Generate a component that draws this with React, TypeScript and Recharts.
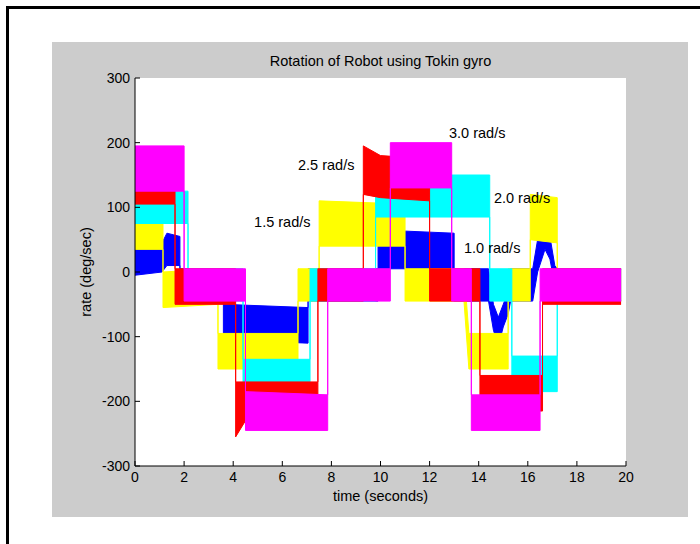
import { Area, CartesianGrid, ComposedChart, Label, ReferenceDot, XAxis, YAxis } from "recharts";

// time ticks (s) and rate ticks (deg/sec)
const timeTicks = [0, 2, 4, 6, 8, 10, 12, 14, 16, 18, 20];
const rateTicks = [-300, -200, -100, 0, 100, 200, 300];

// each entry: [time, low edge of noise band, high edge of noise band]
type BandPoint = [number, number, number];

const blue10: BandPoint[] = [
  [0, -5, 45], [1.1, 0, 45], [1.3, 10, 60], [1.83, 10, 55],
  [1.83, -45, 5], [3.6, -45, 5],
  [3.6, -105, -50], [7.05, -110, -55],
  [7.05, -45, 5], [9.9, -45, 5],
  [9.9, 5, 65], [13.0, 5, 60],
  [13.0, -45, 5], [14.4, -45, 5],
  [14.6, -90, -50], [14.8, -115, -70], [15.0, -85, -50], [15.2, -65, -30], [15.3, -45, 5],
  [16.2, -45, 5], [16.4, 0, 50], [16.7, 35, 70], [16.9, 20, 55], [17.1, -20, 10],
  [17.2, -45, 5], [19.8, -45, 5],
];

const yellow15: BandPoint[] = [
  [0, 35, 90], [1.14, 35, 90],
  [1.14, -55, 0], [3.38, -50, 5],
  [3.38, -150, -95], [6.64, -150, -95],
  [6.64, -45, 5], [7.5, -45, 5],
  [7.5, 40, 110], [11.0, 40, 105],
  [11.0, -45, 5], [13.4, -45, 5],
  [13.6, -150, -95], [15.2, -150, -95],
  [15.2, -45, 5], [16.1, -45, 5],
  [16.1, 50, 120], [17.2, 45, 115],
  [17.2, -45, 5], [19.8, -45, 5],
];

const cyan20: BandPoint[] = [
  [0, 75, 125], [2.16, 75, 125],
  [2.16, -45, 5], [4.4, -45, 5],
  [4.4, -180, -135], [7.13, -180, -135],
  [7.13, -45, 5], [9.8, -45, 5],
  [9.8, 85, 150], [14.45, 85, 150],
  [14.45, -45, 5], [15.35, -45, 5],
  [15.35, -185, -130], [17.2, -185, -130],
  [17.2, -45, 5], [19.8, -45, 5],
];

const red25: BandPoint[] = [
  [0, 105, 150], [1.63, 105, 150],
  [1.63, -50, 5], [4.1, -50, 5],
  [4.1, -255, -170], [4.5, -230, -170], [7.45, -230, -170],
  [7.45, -45, 5], [9.3, -45, 5],
  [9.3, 120, 195], [10.0, 115, 180], [12.0, 110, 175],
  [12.0, -45, 5], [14.05, -45, 5],
  [14.05, -215, -160], [16.6, -215, -160],
  [16.6, -50, 5], [19.8, -50, 5],
];

const magenta30: BandPoint[] = [
  [0, 125, 195], [2.0, 125, 195],
  [2.0, -45, 5], [4.5, -45, 5],
  [4.5, -245, -185], [7.85, -245, -190],
  [7.85, -45, 5], [10.4, -45, 5],
  [10.4, 130, 200], [12.9, 130, 200],
  [12.9, -45, 5], [13.7, -45, 5],
  [13.7, -245, -190], [16.5, -245, -190],
  [16.5, -45, 5], [19.8, -45, 5],
];

const series = [
  { name: "1.0 rad/s", color: "#0000ff", points: blue10 },
  { name: "1.5 rad/s", color: "#ffff00", points: yellow15 },
  { name: "2.0 rad/s", color: "#00ffff", points: cyan20 },
  { name: "2.5 rad/s", color: "#ff0000", points: red25 },
  { name: "3.0 rad/s", color: "#ff00ff", points: magenta30 },
];

// text notes: [time, rate, text]
const notes: [number, number, string][] = [
  [12.79, 215, "3.0 rad/s"],
  [6.64, 165, "2.5 rad/s"],
  [14.62, 114, "2.0 rad/s"],
  [4.85, 77, "1.5 rad/s"],
  [13.4, 37, "1.0 rad/s"],
];

const font = "'Liberation Sans', Arial, sans-serif";
const tickStyle = { fontSize: 14, fill: "#000", fontFamily: font };

export default function App() {
  return (
    <div style={{ position: "absolute", left: 0, top: 0, width: 700, height: 544, background: "#fff", fontFamily: font }}>
      <div style={{ position: "absolute", left: 6, top: 6, width: 694, height: 3, background: "#000" }} />
      <div style={{ position: "absolute", left: 6, top: 6, width: 3, height: 538, background: "#000" }} />
      <div style={{ position: "absolute", left: 52, top: 42, width: 636, height: 475, background: "#cccccc" }} />
      <div
        style={{
          position: "absolute",
          left: 135,
          top: 53,
          width: 491,
          textAlign: "center",
          fontSize: 14.5,
          lineHeight: "17px",
          color: "#000",
        }}
      >
        Rotation of Robot using Tokin gyro
      </div>
      <div style={{ position: "absolute", left: 0, top: 0 }}>
        <ComposedChart width={700} height={544} margin={{ top: 78, right: 74, bottom: 48, left: 75 }}>
          <CartesianGrid horizontal={false} vertical={false} fill="#fff" stroke="none" />
          <XAxis
            dataKey="t"
            type="number"
            domain={[0, 20]}
            ticks={timeTicks}
            allowDataOverflow
            height={30}
            tickSize={-5}
            tickMargin={11}
            tick={tickStyle}
            stroke="#000"
            interval={0}
          >
            <Label value="time (seconds)" position="bottom" offset={-5} style={{ fontSize: 14.5, fill: "#000", fontFamily: font }} />
          </XAxis>
          <XAxis
            xAxisId="top"
            orientation="top"
            type="number"
            domain={[0, 20]}
            ticks={timeTicks}
            height={0}
            tickSize={-5}
            tick={false}
            stroke="#000"
          />
          <YAxis
            type="number"
            domain={[-300, 300]}
            ticks={rateTicks}
            allowDataOverflow
            width={60}
            tickSize={-5}
            tickMargin={10}
            tick={tickStyle}
            stroke="#000"
            interval={0}
          >
            <Label
              value="rate (deg/sec)"
              angle={-90}
              position="insideLeft"
              offset={11}
              style={{ fontSize: 14.5, fill: "#000", fontFamily: font, textAnchor: "middle" }}
            />
          </YAxis>
          <YAxis
            yAxisId="right"
            orientation="right"
            type="number"
            domain={[-300, 300]}
            ticks={rateTicks}
            width={0}
            tickSize={-5}
            tick={false}
            stroke="#000"
          />
          {series.map((s) => (
            <Area
              key={s.name}
              name={s.name}
              data={s.points.map(([t, lo, hi]) => ({ t, band: [lo, hi] }))}
              dataKey="band"
              type="linear"
              stroke={s.color}
              strokeWidth={1}
              fill={s.color}
              fillOpacity={1}
              dot={false}
              activeDot={false}
              isAnimationActive={false}
            />
          ))}
          {notes.map(([t, v, text]) => (
            <ReferenceDot
              key={text}
              x={t}
              y={v}
              r={0}
              stroke="none"
              fill="none"
              label={{ value: text, position: "right", offset: 0, fontSize: 14.5, fill: "#000", fontFamily: font }}
            />
          ))}
        </ComposedChart>
      </div>
    </div>
  );
}
